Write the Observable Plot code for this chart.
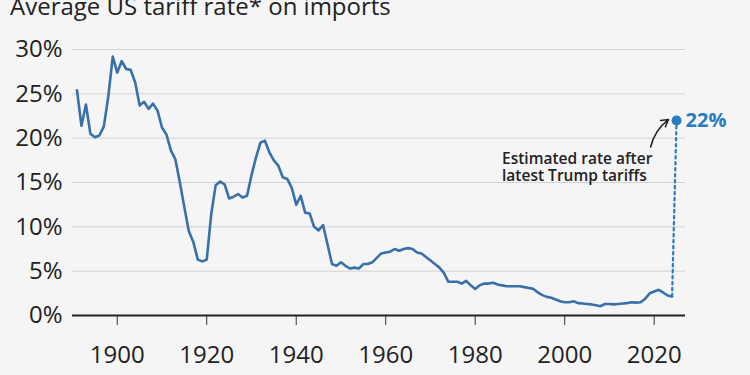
<!DOCTYPE html>
<html>
<head>
<meta charset="utf-8">
<script src="https://cdn.jsdelivr.net/npm/d3@7"></script>
<script src="https://cdn.jsdelivr.net/npm/@observablehq/plot@0.6"></script>
<style>
  html, body { margin: 0; padding: 0; background: #f5f5f5; }
  body { width: 750px; height: 375px; overflow: hidden; font-family: "Open Sans", sans-serif; }
  #title { height: 28px; font-size: 24px; line-height: 24px; color: #222; padding-left: 10px; position: relative; top: -6px; white-space: nowrap; }
  #chart svg { display: block; }
</style>
</head>
<body>
<div id="title">Average US tariff rate* on imports</div>
<div id="chart"></div>
<script>
// Years 1891–2024
const years = d3.range(1891, 2025);
// Average tariff rate (%)
const rates = [
  25.4, 21.4, 23.8, 20.5, 20.1, 20.3, 21.3, 24.7, 29.2, 27.4, // 1891-1900
  28.7, 27.8, 27.7, 26.3, 23.7, 24.1, 23.3, 23.9, 23.1, 21.2, // 1901-1910
  20.4, 18.6, 17.6, 15.0, 12.2, 9.5, 8.3, 6.3, 6.1, 6.3,      // 1911-1920
  11.4, 14.7, 15.1, 14.8, 13.2, 13.4, 13.7, 13.3, 13.5, 15.8, // 1921-1930
  17.8, 19.5, 19.7, 18.4, 17.5, 16.9, 15.6, 15.4, 14.4, 12.5, // 1931-1940
  13.5, 11.6, 11.5, 10.0, 9.6, 10.2, 8.0, 5.8, 5.6, 6.0,      // 1941-1950
  5.6, 5.3, 5.4, 5.3, 5.8, 5.8, 6.0, 6.5, 7.0, 7.1,           // 1951-1960
  7.2, 7.5, 7.3, 7.5, 7.6, 7.5, 7.1, 7.0, 6.6, 6.2,           // 1961-1970
  5.8, 5.4, 4.8, 3.8, 3.8, 3.8, 3.6, 3.9, 3.4, 3.0,           // 1971-1980
  3.4, 3.6, 3.6, 3.7, 3.5, 3.4, 3.3, 3.3, 3.3, 3.3,           // 1981-1990
  3.2, 3.1, 3.0, 2.6, 2.3, 2.1, 2.0, 1.8, 1.6, 1.5,           // 1991-2000
  1.5, 1.6, 1.4, 1.35, 1.3, 1.25, 1.15, 1.05, 1.3, 1.3,       // 2001-2010
  1.25, 1.3, 1.35, 1.4, 1.5, 1.45, 1.5, 1.9, 2.5, 2.7,        // 2011-2020
  2.9, 2.6, 2.25, 2.15                                        // 2021-2024
];
// Estimated rate after latest tariffs
const estYear = [2025];
const estRate = [22];
const estLabel = ["22%"];
// Tick labels
const xTicks = [1900, 1920, 1940, 1960, 1980, 2000, 2020];
const yTicks = [0, 5, 10, 15, 20, 25, 30];
const annotationText = ["Estimated rate after\nlatest Trump tariffs"];

const data = years.map((y, i) => ({year: y, rate: rates[i]}));
const last = data[data.length - 1];
const est = {year: estYear[0], rate: estRate[0], label: estLabel[0]};

const lineColor = "#3a70a8";
const dotColor = "#2b7bc0";

const chart = Plot.plot({
  width: 750,
  height: 347,
  marginLeft: 72,
  marginRight: 65,
  marginTop: 21,
  marginBottom: 60,
  style: {background: "transparent", fontFamily: "Open Sans, sans-serif", fontSize: "24px", color: "#222", overflow: "visible"},
  x: {domain: [1890, 2027]},
  y: {domain: [0, 30]},
  marks: [
    Plot.ruleY(yTicks.filter(d => d > 0), {stroke: "#d2d2d2", strokeWidth: 1}),
    Plot.axisY({ticks: yTicks, tickSize: 0, tickPadding: 10, tickFormat: d => d + "%", label: null, fill: "#222"}),
    Plot.axisX({ticks: xTicks, tickSize: 10, tickPadding: 20, tickFormat: d => String(d), label: null, stroke: "#333", fill: "#222"}),
    Plot.ruleY([0], {stroke: "#222", strokeWidth: 2}),
    Plot.line([last, est], {x: "year", y: "rate", stroke: dotColor, strokeWidth: 2.2, strokeDasharray: "2.5,3.5"}),
    Plot.line(data, {x: "year", y: "rate", stroke: lineColor, strokeWidth: 2.6, strokeLinejoin: "round"}),
    Plot.dot([est], {x: "year", y: "rate", r: 5, fill: dotColor, stroke: null}),
    Plot.text([est], {x: "year", y: "rate", text: "label", dx: 9, textAnchor: "start", fill: dotColor, fontSize: 20, fontWeight: 700}),
    Plot.arrow([{x1: 2019.2, y1: 19.0, x2: 2023.2, y2: 22.1}], {x1: "x1", y1: "y1", x2: "x2", y2: "y2", bend: 20, stroke: "#222", strokeWidth: 1.5, headLength: 8}),
    Plot.text(annotationText, {x: () => 1986, y: () => 18.5, text: d => d, textAnchor: "start", lineAnchor: "top", lineHeight: 1.12, fontSize: 15.5, fontWeight: 600, fill: "#222"})
  ]
});
document.getElementById("chart").appendChild(chart);
</script>
</body>
</html>
